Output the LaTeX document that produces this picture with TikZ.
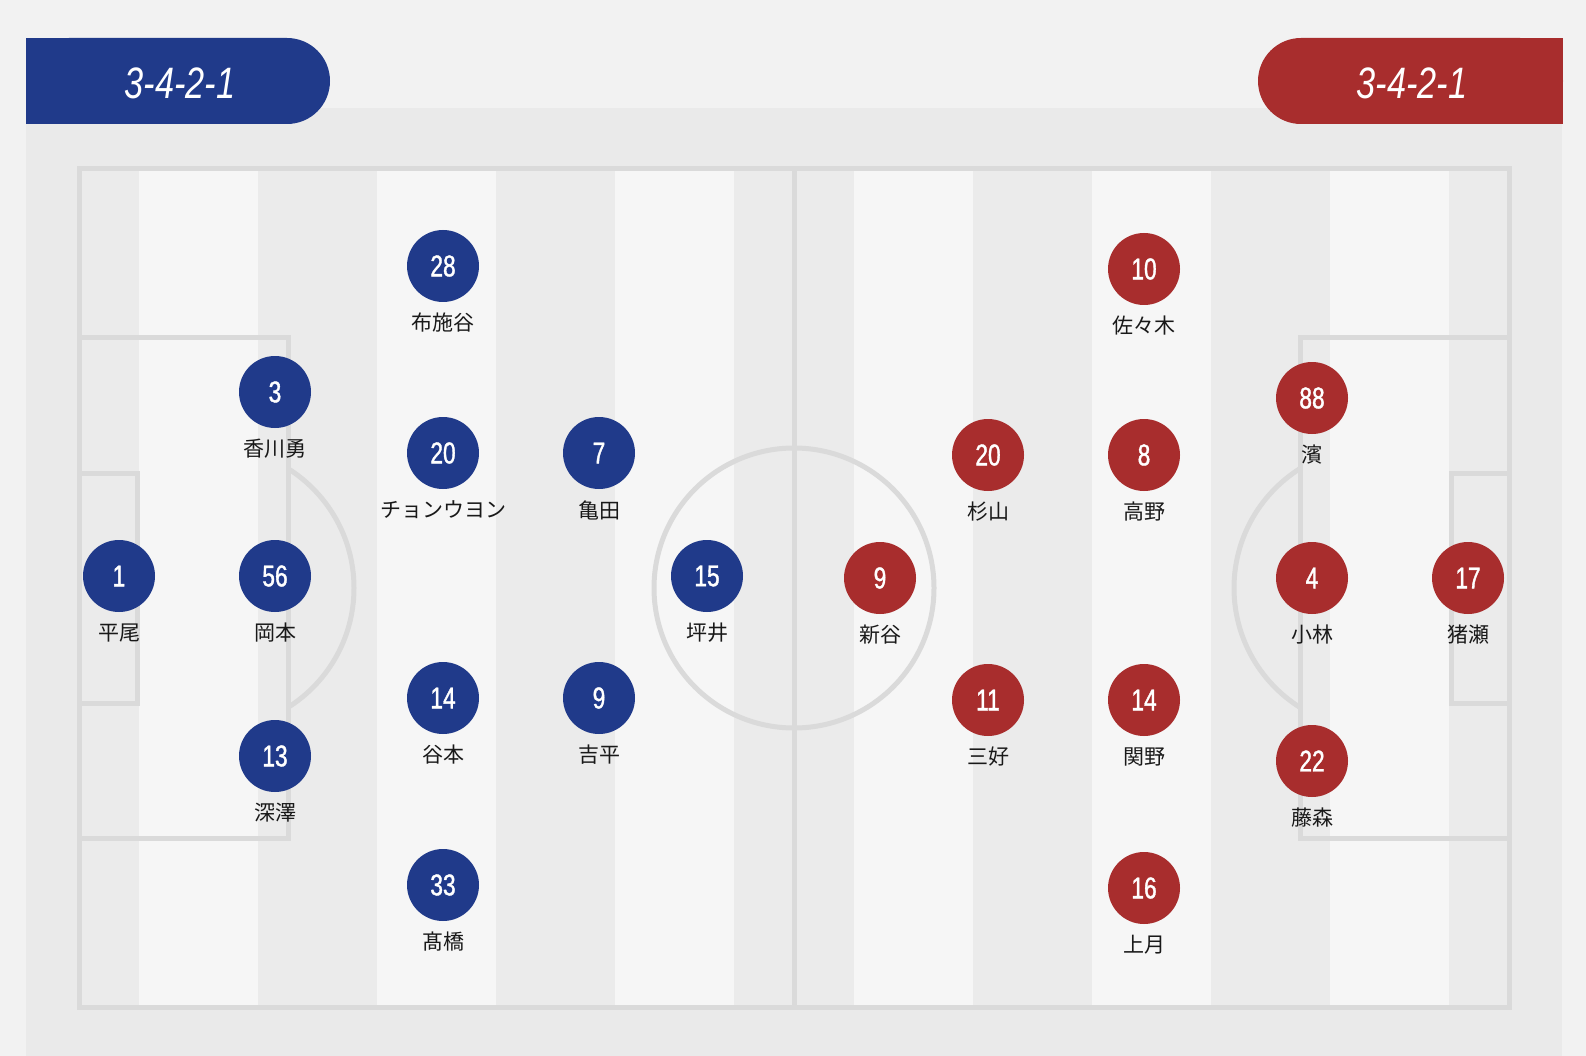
\documentclass[tikz,border=0pt]{standalone}
\usepackage{fontspec}
\usetikzlibrary{positioning}
\newfontfamily\namefont{Noto Sans CJK JP}
\newfontfamily\numfont[FakeStretch=0.76,FakeBold=1.2]{Liberation Sans}
\newfontfamily\formfont[FakeStretch=0.78]{Liberation Sans}
\definecolor{homeblue}{RGB}{32,58,138}
\definecolor{awayred}{RGB}{168,45,45}
\definecolor{bggray}{RGB}{242,242,242}
\definecolor{panelgray}{RGB}{234,234,234}
\definecolor{stripedark}{RGB}{235,235,235}
\definecolor{stripelight}{RGB}{246,246,246}
\definecolor{pitchline}{RGB}{218,218,218}
\tikzstyle{home}=[circle,fill=homeblue,minimum size=72pt,inner sep=0pt,
  text=white,font=\numfont\fontsize{30}{30}\selectfont]
\tikzstyle{away}=[home,fill=awayred]
\tikzstyle{plname}=[inner sep=0pt,text=black!90,
  font=\namefont\fontsize{21}{21}\selectfont]
\tikzstyle{formtxt}=[inner sep=0pt,text=white,
  font=\formfont\itshape\fontsize{44}{44}\selectfont]
\tikzstyle{pitchln}=[draw=pitchline,line width=5pt]

\begin{document}
\begin{tikzpicture}[x=1pt, y=-1pt, on grid, node distance=57pt]
  \fill[bggray] (0,0) rectangle (1586,1056);
  \useasboundingbox (0,0) rectangle (1586,1056);
  \fill[panelgray] (26,108) rectangle (1562,1056);

  % pitch and stripes
  \begin{scope}
    \clip (79,169) rectangle (1509,1007);
    \fill[stripelight] (79,169) rectangle (1509,1007);
    \foreach \k in {0,2,...,12}
      \fill[stripedark] (79+\k*119.17-59.6,169) rectangle (79+\k*119.17+59.6,1007);
  \end{scope}
  \draw[pitchln] (79,169) rectangle (1509,1007);
  \draw[pitchln] (794,169) -- (794,1007);
  \draw[pitchln] (794,588) circle[radius=140];
  \draw[pitchln] (79,337) -| (288,838) -- (79,838);
  \draw[pitchln] (79,473) -| (137,703) -- (79,703);
  \draw[pitchln] (1509,337) -| (1300,838) -- (1509,838);
  \draw[pitchln] (1509,473) -| (1451,703) -- (1509,703);
  \begin{scope}
    \clip (288,169) rectangle (500,1007);
    \draw[pitchln] (213,588) circle[radius=141];
  \end{scope}
  \begin{scope}
    \clip (1088,169) rectangle (1300,1007);
    \draw[pitchln] (1375,588) circle[radius=141];
  \end{scope}

  % formation badges
  \fill[homeblue, rounded corners=43pt] (26,38) rectangle (330,124);
  \fill[homeblue] (26,38) rectangle (120,124);
  \fill[awayred, rounded corners=43pt] (1258,38) rectangle (1563,124);
  \fill[awayred] (1460,38) rectangle (1563,124);
  \node[formtxt] (homeform) at (180,83) {3-4-2-1};
  \node[formtxt] (awayform) at (1412,83) {3-4-2-1};

  % home side
  \node[home] (h1)  at (119,576) {1};
  \node[home] (h3)  at (275,392) {3};
  \node[home] (h56) at (275,576) {56};
  \node[home] (h13) at (275,756) {13};
  \node[home] (h28) at (443,266) {28};
  \node[home] (h20) at (443,453) {20};
  \node[home] (h14) at (443,698) {14};
  \node[home] (h33) at (443,885) {33};
  \node[home] (h7)  at (599,453) {7};
  \node[home] (h9)  at (599,698) {9};
  \node[home] (h15) at (707,576) {15};
  \node[plname, below=of h1]  (h1n)  {平尾};
  \node[plname, below=of h3]  (h3n)  {香川勇};
  \node[plname, below=of h56] (h56n) {岡本};
  \node[plname, below=of h13] (h13n) {深澤};
  \node[plname, below=of h28] (h28n) {布施谷};
  \node[plname, below=of h20] (h20n) {チョンウヨン};
  \node[plname, below=of h14] (h14n) {谷本};
  \node[plname, below=of h33] (h33n) {髙橋};
  \node[plname, below=of h7]  (h7n)  {亀田};
  \node[plname, below=of h9]  (h9n)  {吉平};
  \node[plname, below=of h15] (h15n) {坪井};

  % away side
  \node[away] (a10) at (1144,269) {10};
  \node[away] (a88) at (1312,398) {88};
  \node[away] (a20) at (988,455)  {20};
  \node[away] (a8)  at (1144,455) {8};
  \node[away] (a9)  at (880,578)  {9};
  \node[away] (a4)  at (1312,578) {4};
  \node[away] (a17) at (1468,578) {17};
  \node[away] (a11) at (988,700)  {11};
  \node[away] (a14) at (1144,700) {14};
  \node[away] (a22) at (1312,761) {22};
  \node[away] (a16) at (1144,888) {16};
  \node[plname, below=of a10] (a10n) {佐々木};
  \node[plname, below=of a88] (a88n) {濱};
  \node[plname, below=of a20] (a20n) {杉山};
  \node[plname, below=of a8]  (a8n)  {高野};
  \node[plname, below=of a9]  (a9n)  {新谷};
  \node[plname, below=of a4]  (a4n)  {小林};
  \node[plname, below=of a17] (a17n) {猪瀬};
  \node[plname, below=of a11] (a11n) {三好};
  \node[plname, below=of a14] (a14n) {関野};
  \node[plname, below=of a22] (a22n) {藤森};
  \node[plname, below=of a16] (a16n) {上月};
\end{tikzpicture}
\end{document}
